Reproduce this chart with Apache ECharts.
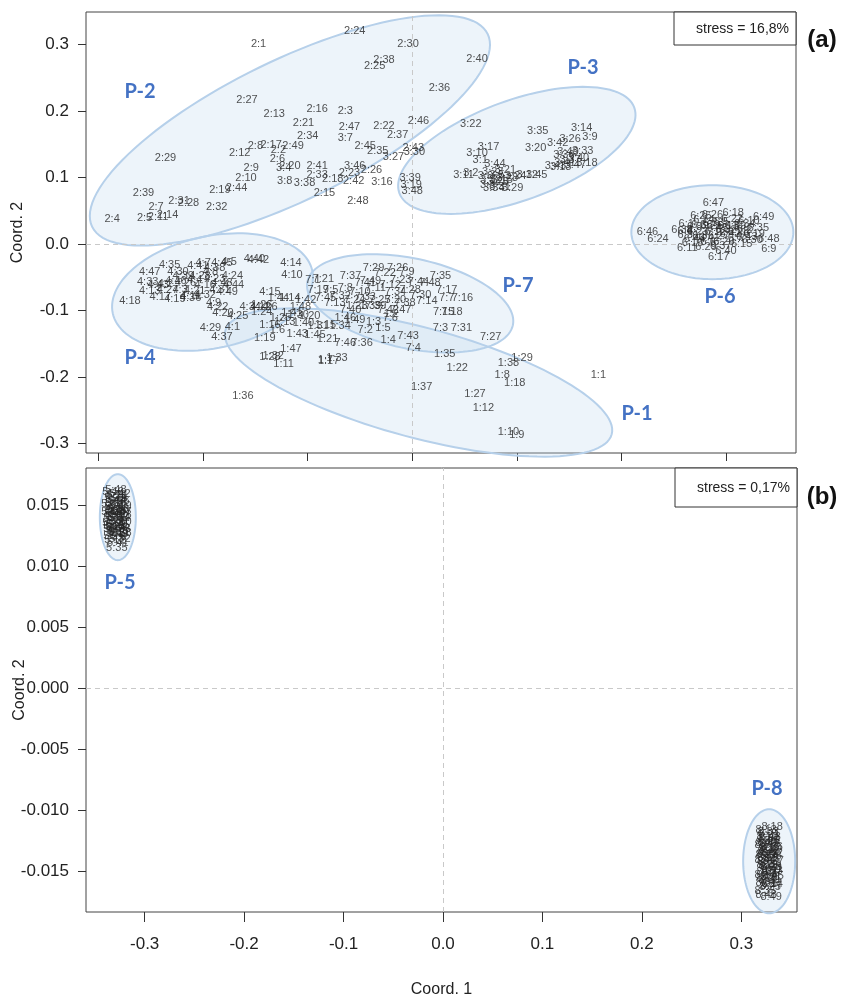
<!DOCTYPE html>
<html>
<head>
<meta charset="utf-8">
<script src="https://cdn.jsdelivr.net/npm/echarts@6/dist/echarts.min.js"></script>
<style>html,body{margin:0;padding:0;background:#fff}#c{width:842px;height:996px}</style>
</head>
<body>
<div id="c"></div>
<script>
// ---------- data: [label, Coord.1, Coord.2] ----------
const P1 = [["1:1",0.178,-0.197],["1:36",-0.162,-0.229],["1:28",-0.136,-0.170],["1:32",-0.133,-0.168],["1:11",-0.123,-0.180],["1:47",-0.116,-0.158],["1:19",-0.141,-0.141],["1:43",-0.110,-0.135],["1:40",-0.104,-0.119],["1:30",-0.109,-0.107],["1:21",-0.081,-0.143],["1:33",-0.072,-0.171],["1:7",-0.083,-0.174],["1:17",-0.080,-0.176],["1:15",-0.083,-0.122],["1:34",-0.069,-0.123],["1:2",-0.020,-0.105],["1:3",-0.037,-0.117],["1:5",-0.028,-0.126],["1:4",-0.023,-0.144],["1:35",0.031,-0.165],["1:22",0.043,-0.186],["1:37",0.009,-0.214],["1:38",0.092,-0.179],["1:29",0.105,-0.171],["1:8",0.086,-0.197],["1:18",0.098,-0.208],["1:27",0.060,-0.226],["1:12",0.068,-0.247],["1:10",0.092,-0.283],["1:9",0.100,-0.287],["1:6",-0.129,-0.129],["1:13",-0.122,-0.117],["1:14",-0.117,-0.081],["1:16",-0.136,-0.122],["1:20",-0.098,-0.108],["1:23",-0.053,-0.093],["1:24",-0.144,-0.102],["1:25",-0.126,-0.111],["1:26",-0.144,-0.092],["1:31",-0.090,-0.123],["1:39",-0.040,-0.093],["1:41",-0.115,-0.104],["1:42",-0.102,-0.084],["1:44",-0.128,-0.081],["1:45",-0.093,-0.137],["1:46",-0.064,-0.111],["1:48",-0.107,-0.095],["1:49",-0.055,-0.114]];
const P2 = [["2:1",-0.147,0.301],["2:24",-0.055,0.320],["2:30",-0.004,0.301],["2:38",-0.027,0.277],["2:25",-0.036,0.268],["2:40",0.062,0.278],["2:36",0.026,0.235],["2:27",-0.158,0.217],["2:13",-0.132,0.195],["2:16",-0.091,0.203],["2:3",-0.064,0.200],["2:21",-0.104,0.182],["2:47",-0.060,0.176],["2:22",-0.027,0.177],["2:46",0.006,0.185],["2:34",-0.100,0.162],["2:37",-0.014,0.164],["2:8",-0.150,0.147],["2:17",-0.135,0.149],["2:2",-0.128,0.141],["2:49",-0.114,0.147],["2:12",-0.165,0.137],["2:45",-0.045,0.147],["2:35",-0.033,0.140],["2:43",0.001,0.144],["2:29",-0.236,0.129],["2:6",-0.129,0.128],["2:9",-0.154,0.114],["2:20",-0.117,0.117],["2:41",-0.091,0.117],["2:26",-0.039,0.111],["2:10",-0.159,0.099],["2:33",-0.091,0.104],["2:23",-0.060,0.107],["2:18",-0.076,0.098],["2:42",-0.056,0.095],["2:19",-0.184,0.081],["2:44",-0.168,0.084],["2:39",-0.257,0.077],["2:15",-0.084,0.077],["2:48",-0.052,0.065],["2:31",-0.223,0.065],["2:28",-0.214,0.062],["2:7",-0.245,0.056],["2:32",-0.187,0.056],["2:4",-0.287,0.038],["2:5",-0.256,0.039],["2:11",-0.243,0.041],["2:14",-0.234,0.044]];
const P3 = [["3:7",-0.064,0.159],["3:27",-0.018,0.131],["3:4",-0.123,0.114],["3:46",-0.055,0.117],["3:8",-0.122,0.095],["3:38",-0.103,0.092],["3:16",-0.029,0.093],["3:39",-0.002,0.099],["3:19",-0.001,0.089],["3:48",0.000,0.080],["3:30",0.002,0.138],["3:22",0.056,0.180],["3:35",0.120,0.170],["3:14",0.162,0.174],["3:26",0.151,0.158],["3:9",0.170,0.161],["3:42",0.139,0.152],["3:17",0.073,0.146],["3:20",0.118,0.144],["3:33",0.163,0.140],["3:10",0.062,0.137],["3:18",0.167,0.122],["3:44",0.079,0.120],["3:13",0.142,0.116],["3:12",0.110,0.104],["3:45",0.119,0.104],["3:29",0.096,0.084],["3:34",0.078,0.084],["3:11",0.049,0.104],["3:1",0.065,0.126],["3:2",0.056,0.107],["3:3",0.072,0.089],["3:5",0.081,0.104],["3:6",0.070,0.102],["3:15",0.086,0.096],["3:21",0.089,0.111],["3:23",0.077,0.108],["3:24",0.099,0.102],["3:25",0.082,0.093],["3:28",0.091,0.099],["3:31",0.084,0.086],["3:32",0.075,0.096],["3:36",0.145,0.134],["3:37",0.151,0.126],["3:40",0.159,0.129],["3:41",0.146,0.122],["3:43",0.137,0.117],["3:47",0.156,0.119],["3:49",0.149,0.138]];
const P4 = [["4:40",-0.151,-0.023],["4:42",-0.147,-0.024],["4:14",-0.116,-0.029],["4:10",-0.115,-0.047],["4:35",-0.232,-0.032],["4:7",-0.200,-0.029],["4:45",-0.182,-0.029],["4:5",-0.175,-0.027],["4:47",-0.251,-0.042],["4:30",-0.224,-0.042],["4:24",-0.172,-0.048],["4:33",-0.253,-0.057],["4:44",-0.171,-0.062],["4:49",-0.177,-0.072],["4:18",-0.270,-0.086],["4:15",-0.136,-0.072],["4:9",-0.190,-0.089],["4:20",-0.181,-0.104],["4:25",-0.167,-0.108],["4:34",-0.155,-0.095],["4:12",-0.145,-0.095],["4:6",-0.136,-0.095],["4:29",-0.193,-0.126],["4:1",-0.172,-0.125],["4:37",-0.182,-0.140],["4:22",-0.186,-0.095],["4:2",-0.236,-0.060],["4:3",-0.222,-0.069],["4:4",-0.208,-0.054],["4:8",-0.193,-0.042],["4:11",-0.212,-0.078],["4:13",-0.251,-0.071],["4:16",-0.198,-0.062],["4:17",-0.241,-0.080],["4:19",-0.227,-0.083],["4:21",-0.208,-0.071],["4:23",-0.189,-0.053],["4:26",-0.217,-0.059],["4:27",-0.234,-0.069],["4:28",-0.203,-0.048],["4:31",-0.184,-0.069],["4:32",-0.198,-0.077],["4:36",-0.212,-0.081],["4:38",-0.189,-0.036],["4:39",-0.219,-0.048],["4:41",-0.205,-0.033],["4:43",-0.243,-0.062],["4:46",-0.226,-0.056],["4:48",-0.182,-0.059]];
const P6 = [["6:47",0.288,0.062],["6:25",0.276,0.042],["6:26",0.287,0.044],["6:18",0.307,0.047],["6:49",0.336,0.041],["6:46",0.225,0.018],["6:24",0.235,0.008],["6:48",0.341,0.008],["6:9",0.341,-0.008],["6:17",0.293,-0.020],["6:11",0.263,-0.006],["6:40",0.300,-0.011],["6:4",0.261,0.020],["6:1",0.262,0.030],["6:2",0.318,0.022],["6:3",0.275,0.012],["6:5",0.296,0.034],["6:6",0.283,0.004],["6:7",0.309,0.010],["6:8",0.270,0.026],["6:10",0.322,0.035],["6:12",0.290,0.018],["6:13",0.302,0.028],["6:14",0.279,0.036],["6:15",0.315,0.000],["6:16",0.268,0.002],["6:19",0.327,0.016],["6:20",0.298,0.004],["6:21",0.286,0.027],["6:22",0.306,0.038],["6:23",0.273,0.019],["6:27",0.293,0.012],["6:28",0.312,0.019],["6:29",0.281,-0.004],["6:30",0.325,0.006],["6:31",0.264,0.014],["6:32",0.300,0.021],["6:33",0.288,0.032],["6:34",0.318,0.030],["6:35",0.331,0.024],["6:36",0.277,0.029],["6:37",0.295,-0.002],["6:38",0.258,0.022],["6:39",0.309,0.027],["6:41",0.284,0.010],["6:42",0.304,0.015],["6:43",0.320,0.011],["6:44",0.270,0.008],["6:45",0.292,0.024]];
const P7 = [["7:29",-0.037,-0.036],["7:26",-0.014,-0.036],["7:9",-0.005,-0.042],["7:35",0.027,-0.048],["7:37",-0.059,-0.048],["7:1",-0.095,-0.054],["7:21",-0.085,-0.053],["7:49",-0.040,-0.056],["7:48",0.017,-0.059],["7:17",0.033,-0.069],["7:7",0.033,-0.081],["7:16",0.048,-0.081],["7:14",0.014,-0.086],["7:15",0.030,-0.102],["7:18",0.038,-0.102],["7:3",0.027,-0.126],["7:31",0.047,-0.126],["7:27",0.075,-0.140],["7:2",-0.045,-0.129],["7:43",-0.004,-0.138],["7:4",0.001,-0.156],["7:46",-0.064,-0.149],["7:36",-0.048,-0.149],["7:6",-0.021,-0.111],["7:5",-0.078,-0.069],["7:8",-0.064,-0.066],["7:10",-0.050,-0.072],["7:11",-0.035,-0.066],["7:12",-0.021,-0.062],["7:13",-0.074,-0.089],["7:19",-0.090,-0.069],["7:20",-0.016,-0.084],["7:22",-0.026,-0.044],["7:23",-0.011,-0.054],["7:24",-0.055,-0.084],["7:25",-0.031,-0.084],["7:28",-0.002,-0.069],["7:30",0.008,-0.077],["7:32",-0.069,-0.078],["7:33",-0.045,-0.080],["7:34",-0.016,-0.072],["7:38",-0.007,-0.089],["7:39",-0.035,-0.093],["7:40",-0.059,-0.099],["7:41",-0.045,-0.059],["7:42",-0.023,-0.099],["7:44",0.006,-0.057],["7:45",-0.083,-0.081],["7:47",-0.011,-0.099]];
const P5 = [["5:1",-0.328,0.0150],["5:2",-0.326,0.0143],["5:3",-0.330,0.0137],["5:4",-0.327,0.0131],["5:5",-0.325,0.0155],["5:6",-0.331,0.0146],["5:7",-0.329,0.0128],["5:8",-0.326,0.0124],["5:9",-0.332,0.0141],["5:10",-0.324,0.0136],["5:11",-0.328,0.0158],["5:12",-0.330,0.0121],["5:13",-0.327,0.0147],["5:14",-0.325,0.0139],["5:15",-0.331,0.0133],["5:16",-0.329,0.0152],["5:17",-0.326,0.0127],["5:18",-0.333,0.0144],["5:19",-0.324,0.0149],["5:20",-0.328,0.0134],["5:21",-0.330,0.0156],["5:22",-0.327,0.0140],["5:23",-0.325,0.0130],["5:24",-0.331,0.0125],["5:25",-0.329,0.0145],["5:26",-0.326,0.0153],["5:27",-0.332,0.0135],["5:28",-0.324,0.0142],["5:29",-0.328,0.0129],["5:30",-0.330,0.0148],["5:31",-0.327,0.0157],["5:32",-0.325,0.0122],["5:33",-0.331,0.0139],["5:34",-0.329,0.0132],["5:35",-0.328,0.0115],["5:36",-0.326,0.0146],["5:37",-0.333,0.0151],["5:38",-0.324,0.0127],["5:39",-0.328,0.0137],["5:40",-0.330,0.0143],["5:41",-0.327,0.0119],["5:42",-0.325,0.0159],["5:43",-0.331,0.0130],["5:44",-0.329,0.0154],["5:45",-0.326,0.0134],["5:46",-0.332,0.0161],["5:47",-0.324,0.0144],["5:48",-0.329,0.0162],["5:49",-0.327,0.0126]];
const P8 = [["8:1",0.326,-0.0131],["8:2",0.330,-0.0140],["8:3",0.328,-0.0152],["8:4",0.325,-0.0146],["8:5",0.331,-0.0125],["8:6",0.327,-0.0158],["8:7",0.329,-0.0136],["8:8",0.324,-0.0143],["8:9",0.332,-0.0149],["8:10",0.326,-0.0122],["8:11",0.330,-0.0155],["8:12",0.328,-0.0133],["8:13",0.325,-0.0116],["8:14",0.331,-0.0161],["8:15",0.327,-0.0139],["8:16",0.329,-0.0128],["8:17",0.324,-0.0153],["8:18",0.331,-0.0114],["8:19",0.326,-0.0145],["8:20",0.330,-0.0131],["8:21",0.328,-0.0120],["8:22",0.325,-0.0137],["8:23",0.331,-0.0150],["8:24",0.327,-0.0126],["8:25",0.329,-0.0163],["8:26",0.324,-0.0129],["8:27",0.332,-0.0142],["8:28",0.326,-0.0156],["8:29",0.330,-0.0147],["8:30",0.328,-0.0124],["8:31",0.325,-0.0160],["8:32",0.331,-0.0135],["8:33",0.327,-0.0118],["8:34",0.329,-0.0144],["8:35",0.324,-0.0166],["8:36",0.331,-0.0130],["8:37",0.326,-0.0151],["8:38",0.330,-0.0138],["8:39",0.328,-0.0157],["8:40",0.325,-0.0127],["8:41",0.331,-0.0148],["8:42",0.327,-0.0134],["8:43",0.329,-0.0122],["8:44",0.324,-0.0141],["8:45",0.332,-0.0154],["8:46",0.326,-0.0136],["8:47",0.330,-0.0162],["8:48",0.325,-0.0170],["8:49",0.330,-0.0171]];

const xTicksA = [-0.3,-0.2,-0.1,0,0.1,0.2,0.3];
const yTicksA = [-0.3,-0.2,-0.1,0,0.1,0.2,0.3];
const xTicksB = [-0.3,-0.2,-0.1,0,0.1,0.2,0.3];
const yTicksB = [-0.015,-0.010,-0.005,0,0.005,0.010,0.015];

// group outline ellipses: centre in data units; radii/angle are drawing style (px, deg)
const ellipsesA = [[-0.117,0.171],[0.100,0.141],[0.287,0.018],[-0.191,-0.072],[-0.002,-0.089],[0.006,-0.208]];
const ellipseShapeA = [[220,70,-26],[125,50,-20],[81,47,0],[102,56,-12],[105,45,12],[200,55,15]];
const ellipsesB = [[-0.327,0.0140],[0.328,-0.0142]];
const ellipseShapeB = [[43,18,90],[52,26,90]];

// ---------- chart ----------
const chart = echarts.init(document.getElementById('c'), null, {renderer:'canvas'});
const FONT = '"Liberation Sans", Arial, sans-serif';
const tickLabelStyle = {color:'#222', fontSize:17, fontFamily:FONT};

function labelSeries(arr, idx) {
  return {
    type:'scatter', xAxisIndex:idx, yAxisIndex:idx, z:5,
    symbol:'circle', symbolSize:1, itemStyle:{color:'rgba(0,0,0,0)'},
    data: arr.map(d => ({name:d[0], value:[d[1], d[2]]})),
    label:{show:true, position:'inside', formatter:'{b}', color:'#262626', fontSize:11, fontFamily:FONT},
    labelLayout:{hideOverlap:false},
    silent:true
  };
}
function ellipseSeries(centres, shapes, idx) {
  return {
    type:'custom', xAxisIndex:idx, yAxisIndex:idx, z:1, silent:true, clip:false,
    data: centres,
    renderItem: function(params, api) {
      const c = api.coord([api.value(0), api.value(1)]);
      const s = shapes[params.dataIndex];
      const a = s[0], b = s[1], t = s[2]*Math.PI/180;
      const pts = [];
      for (let i = 0; i < 120; i++) {
        const u = i/120*2*Math.PI;
        const ex = a*Math.cos(u), ey = b*Math.sin(u);
        pts.push([c[0] + ex*Math.cos(t) - ey*Math.sin(t), c[1] + ex*Math.sin(t) + ey*Math.cos(t)]);
      }
      return {type:'polygon', shape:{points:pts}, style:{fill:'rgba(189,215,238,0.27)', stroke:'#b6d0ea', lineWidth:2}};
    }
  };
}
function zeroLines(idx) {
  return {
    type:'line', xAxisIndex:idx, yAxisIndex:idx, data:[], z:0, silent:true,
    markLine:{silent:true, symbol:['none','none'], label:{show:false},
      lineStyle:{color:'#c9c9c9', type:[5,4], width:1},
      data:[{xAxis:0},{yAxis:0}], animation:false}
  };
}
const nameStyle = {color:'#222', fontSize:16, fontFamily:FONT};

const option = {
  animation:false,
  grid:[
    {left:86, top:12, width:710, height:441, show:true, borderColor:'#444', borderWidth:1, backgroundColor:'transparent', containLabel:false, outerBoundsMode:'none'},
    {left:86, top:468, width:711, height:444, show:true, borderColor:'#444', borderWidth:1, backgroundColor:'transparent', containLabel:false, outerBoundsMode:'none'}
  ],
  xAxis:[
    {type:'value', gridIndex:0, min:-0.312, max:0.367, splitLine:{show:false},
     axisLine:{show:false, onZero:false}, axisTick:{show:true, length:8, customValues:xTicksA, lineStyle:{color:'#333'}},
     axisLabel:{show:false, customValues:xTicksA}},
    {type:'value', gridIndex:1, min:-0.359, max:0.356, splitLine:{show:false},
     axisLine:{show:false, onZero:false}, axisTick:{show:true, length:10, customValues:xTicksB, lineStyle:{color:'#333'}},
     axisLabel:Object.assign({customValues:xTicksB, margin:24, formatter:v => v.toFixed(1)}, tickLabelStyle),
     name:'Coord. 1', nameLocation:'middle', nameGap:70, nameMoveOverlap:false, nameTextStyle:nameStyle}
  ],
  yAxis:[
    {type:'value', gridIndex:0, min:-0.314, max:0.349, splitLine:{show:false},
     axisLine:{show:false, onZero:false}, axisTick:{show:true, length:8, customValues:yTicksA, lineStyle:{color:'#333'}},
     axisLabel:Object.assign({customValues:yTicksA, margin:17, formatter:v => v.toFixed(1)}, tickLabelStyle),
     name:'Coord. 2', nameLocation:'middle', nameGap:60, nameMoveOverlap:false, nameTextStyle:nameStyle},
    {type:'value', gridIndex:1, min:-0.01836, max:0.01803, splitLine:{show:false},
     axisLine:{show:false, onZero:false}, axisTick:{show:true, length:8, customValues:yTicksB, lineStyle:{color:'#333'}},
     axisLabel:Object.assign({customValues:yTicksB, margin:17, formatter:v => v.toFixed(3)}, tickLabelStyle),
     name:'Coord. 2', nameLocation:'middle', nameGap:58, nameMoveOverlap:false, nameTextStyle:nameStyle}
  ],
  series:[
    zeroLines(0), zeroLines(1),
    ellipseSeries(ellipsesA, ellipseShapeA, 0),
    ellipseSeries(ellipsesB, ellipseShapeB, 1),
    labelSeries(P1,0), labelSeries(P2,0), labelSeries(P3,0), labelSeries(P4,0), labelSeries(P6,0), labelSeries(P7,0),
    labelSeries(P5,1), labelSeries(P8,1)
  ],
  graphic:[
    {type:'rect', z:100, shape:{x:674, y:12, width:122, height:33}, style:{fill:'#fff', stroke:'#333', lineWidth:1}},
    {type:'text', z:101, x:789, y:29, style:{text:'stress = 16,8%', align:'right', verticalAlign:'middle', fill:'#222', font:'14px '+FONT}},
    {type:'rect', z:100, shape:{x:675, y:468, width:122, height:39}, style:{fill:'#fff', stroke:'#333', lineWidth:1}},
    {type:'text', z:101, x:790, y:488, style:{text:'stress = 0,17%', align:'right', verticalAlign:'middle', fill:'#222', font:'14px '+FONT}},
    {type:'text', z:101, x:822, y:40, style:{text:'(a)', align:'center', verticalAlign:'middle', fill:'#111', font:'bold 24px '+FONT}},
    {type:'text', z:101, x:822, y:497, style:{text:'(b)', align:'center', verticalAlign:'middle', fill:'#111', font:'bold 24px '+FONT}},
    {type:'text', z:101, x:140, y:92, style:{text:'P-2', align:'center', verticalAlign:'middle', fill:'#4472C4', font:'bold 20px Lato, sans-serif'}},
    {type:'text', z:101, x:583, y:68, style:{text:'P-3', align:'center', verticalAlign:'middle', fill:'#4472C4', font:'bold 20px Lato, sans-serif'}},
    {type:'text', z:101, x:720, y:297, style:{text:'P-6', align:'center', verticalAlign:'middle', fill:'#4472C4', font:'bold 20px Lato, sans-serif'}},
    {type:'text', z:101, x:140, y:358, style:{text:'P-4', align:'center', verticalAlign:'middle', fill:'#4472C4', font:'bold 20px Lato, sans-serif'}},
    {type:'text', z:101, x:518, y:286, style:{text:'P-7', align:'center', verticalAlign:'middle', fill:'#4472C4', font:'bold 20px Lato, sans-serif'}},
    {type:'text', z:101, x:637, y:414, style:{text:'P-1', align:'center', verticalAlign:'middle', fill:'#4472C4', font:'bold 20px Lato, sans-serif'}},
    {type:'text', z:101, x:120, y:583, style:{text:'P-5', align:'center', verticalAlign:'middle', fill:'#4472C4', font:'bold 20px Lato, sans-serif'}},
    {type:'text', z:101, x:767, y:789, style:{text:'P-8', align:'center', verticalAlign:'middle', fill:'#4472C4', font:'bold 20px Lato, sans-serif'}}
  ]
};
chart.setOption(option);
</script>
</body>
</html>
